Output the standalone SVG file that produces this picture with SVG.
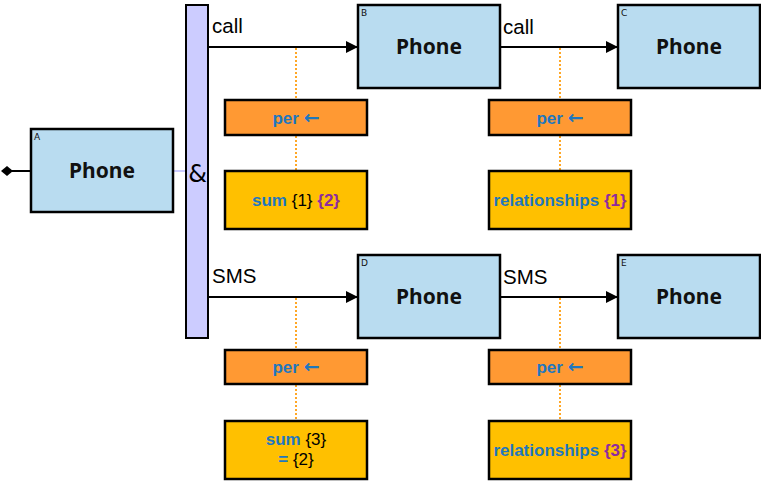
<svg xmlns="http://www.w3.org/2000/svg" width="761" height="481" viewBox="0 0 761 481">
<style>
.node{fill:#B9DCF0;stroke:#000;stroke-width:2.5}
.per{fill:#FF9933;stroke:#000;stroke-width:2.5}
.agg{fill:#FFC000;stroke:#000;stroke-width:2.5}
.ph{font-family:"Noto Sans","DejaVu Sans",sans-serif;font-weight:bold;font-size:21px;text-anchor:middle;fill:#111}
.lt{font-family:"DejaVu Sans",sans-serif;font-size:9px;fill:#111}
.lab{font-family:"Liberation Sans",Arial,sans-serif;font-size:20.5px;fill:#000}
.bt{font-family:"Liberation Sans",Arial,sans-serif;font-size:17px;text-anchor:middle}
.b{fill:#1F77BE;font-weight:bold}
.ar{font-family:"DejaVu Sans",sans-serif;font-weight:bold;font-size:19px}
.k{fill:#000}
.p{fill:#8E2B9E;font-weight:bold}
.edge{stroke:#000;stroke-width:2;fill:none}
.dot{stroke:#FFA726;stroke-width:2;stroke-dasharray:2 2;fill:none}
</style>
<defs>
<marker id="arr" markerWidth="12" markerHeight="12" refX="11" refY="6" orient="auto" markerUnits="userSpaceOnUse">
<path d="M0,0 L12,6 L0,12 z" fill="#000"/>
</marker>
<marker id="dia" markerWidth="12" markerHeight="12" refX="6" refY="6" orient="auto" markerUnits="userSpaceOnUse">
<path d="M0,6 L6,1 L12,6 L6,11 z" fill="#000"/>
</marker>
</defs>
<g id="connectors">
<line x1="7" y1="171" x2="31" y2="171" class="edge" marker-start="url(#dia)"/>
<line x1="173" y1="171" x2="186" y2="171" stroke="#CCCCFF" stroke-width="2"/>
<line x1="209" y1="47" x2="357" y2="47" class="edge" marker-end="url(#arr)"/>
<line x1="501" y1="47" x2="617" y2="47" class="edge" marker-end="url(#arr)"/>
<line x1="209" y1="297" x2="357" y2="297" class="edge" marker-end="url(#arr)"/>
<line x1="501" y1="297" x2="617" y2="297" class="edge" marker-end="url(#arr)"/>
<line x1="296" y1="48" x2="296" y2="100" class="dot"/>
<line x1="296" y1="136" x2="296" y2="171" class="dot"/>
<line x1="560" y1="48" x2="560" y2="100" class="dot"/>
<line x1="560" y1="136" x2="560" y2="171" class="dot"/>
<line x1="296" y1="298" x2="296" y2="350" class="dot"/>
<line x1="296" y1="385" x2="296" y2="421" class="dot"/>
<line x1="560" y1="298" x2="560" y2="350" class="dot"/>
<line x1="560" y1="385" x2="560" y2="421" class="dot"/>
<text x="212" y="33" class="lab">call</text>
<text x="503" y="34" class="lab">call</text>
<text x="212" y="283" class="lab">SMS</text>
<text x="503" y="284" class="lab">SMS</text>
</g>
<g id="bar">
<rect x="186" y="5" width="22" height="333" fill="#CCCCFF" stroke="#000" stroke-width="2"/>
<text x="197.5" y="182" font-family="DejaVu Sans,sans-serif" font-size="24" text-anchor="middle" fill="#000">&amp;</text>
</g>
<g id="A">
<rect x="31" y="129" width="142" height="83" class="node"/>
<text x="34" y="140" class="lt">A</text>
<text x="102" y="178" class="ph">Phone</text>
</g>
<g id="B">
<rect x="358" y="5" width="142" height="83" class="node"/>
<text x="361" y="16" class="lt">B</text>
<text x="429" y="54" class="ph">Phone</text>
</g>
<g id="C">
<rect x="618" y="5" width="142" height="83" class="node"/>
<text x="621" y="16" class="lt">C</text>
<text x="689" y="54" class="ph">Phone</text>
</g>
<g id="D">
<rect x="358" y="255" width="142" height="83" class="node"/>
<text x="361" y="266" class="lt">D</text>
<text x="429" y="304" class="ph">Phone</text>
</g>
<g id="E">
<rect x="618" y="255" width="142" height="83" class="node"/>
<text x="621" y="266" class="lt">E</text>
<text x="689" y="304" class="ph">Phone</text>
</g>
<g id="per1">
<rect x="225" y="100" width="142" height="35" class="per"/>
<text x="296" y="124" class="bt b">per <tspan class="ar">←</tspan></text>
</g>
<g id="sum1">
<rect x="225" y="171" width="142" height="58" class="agg"/>
<text x="296" y="206" class="bt"><tspan class="b">sum</tspan><tspan class="k"> {1} </tspan><tspan class="p">{2}</tspan></text>
</g>
<g id="per2">
<rect x="489" y="100" width="142" height="35" class="per"/>
<text x="560" y="124" class="bt b">per <tspan class="ar">←</tspan></text>
</g>
<g id="rel1">
<rect x="489" y="171" width="142" height="58" class="agg"/>
<text x="560" y="206" class="bt"><tspan class="b">relationships</tspan><tspan class="p"> {1}</tspan></text>
</g>
<g id="per3">
<rect x="225" y="350" width="142" height="34" class="per"/>
<text x="296" y="373" class="bt b">per <tspan class="ar">←</tspan></text>
</g>
<g id="sum2">
<rect x="225" y="421" width="142" height="58" class="agg"/>
<text x="296" y="445" class="bt"><tspan class="b">sum</tspan><tspan class="k"> {3}</tspan></text>
<text x="296" y="465" class="bt"><tspan class="b">=</tspan><tspan class="k"> {2}</tspan></text>
</g>
<g id="per4">
<rect x="489" y="350" width="142" height="34" class="per"/>
<text x="560" y="373" class="bt b">per <tspan class="ar">←</tspan></text>
</g>
<g id="rel2">
<rect x="489" y="421" width="142" height="58" class="agg"/>
<text x="560" y="456" class="bt"><tspan class="b">relationships</tspan><tspan class="p"> {3}</tspan></text>
</g>
</svg>
